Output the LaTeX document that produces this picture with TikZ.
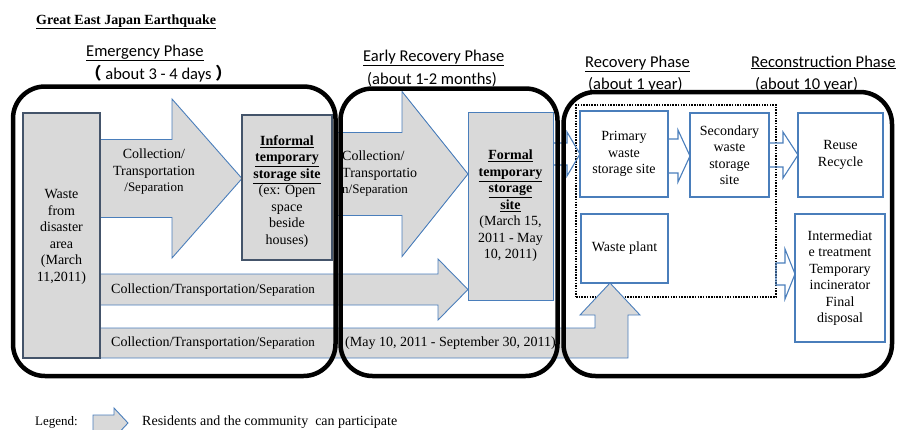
\documentclass[tikz,border=0pt]{standalone}
\usepackage{fontspec}
\setmainfont{Liberation Serif}
\newfontfamily\phasefont{Carlito}
\newfontfamily\cjkfont{Noto Sans CJK JP}
\usetikzlibrary{calc}
\definecolor{bl}{HTML}{4A7EBB}
\definecolor{gfill}{HTML}{D9D9D9}
\definecolor{dkb}{HTML}{44546A}
\newcommand\sepf{\fontsize{13}{16.5}\selectfont}
% block arrow: #1 style, #2 from, #3 to, #4 y centre, #5 shaft half, #6 head half, #7 head length
\newcommand\rarrow[7]{\draw[#1] let \p1=(#2), \p2=(#3) in
  (\x1,#4-#5) -- (\x2-#7pt,#4-#5) -- (\x2-#7pt,#4-#6) -- (\x2,#4) --
  (\x2-#7pt,#4+#6) -- (\x2-#7pt,#4+#5) -- (\x1,#4+#5) -- cycle;}
\pgfdeclarelayer{bg}
\pgfdeclarelayer{fg}
\pgfsetlayers{bg,main,fg}
\begin{document}
\begin{tikzpicture}[x=1pt,y=-1pt,
  boxtext/.style={font=\fontsize{14}{16.5}\selectfont, align=center, inner sep=0pt, outer sep=0pt},
  graybox/.style={boxtext, draw=bl, line width=1pt, fill=gfill},
  darkbox/.style={boxtext, draw=dkb, line width=2.5pt, fill=gfill},
  whitebox/.style={boxtext, draw=bl, line width=1.1pt, fill=white},
  grayarrow/.style={draw=bl, line width=0.9pt, fill=gfill, line join=miter},
  whitearrow/.style={draw=bl, line width=1.1pt, line join=miter},
  phase/.style={font=\phasefont\fontsize{16.5}{19}\selectfont, anchor=base west, inner sep=0pt},
  phasebox/.style={draw=black, line width=4.5pt, rounded corners=32pt},
  dotbox/.style={draw=black, line width=2pt, dash pattern=on 1.5pt off 1.2pt, inner sep=0pt, outer sep=0pt},
  lbl/.style={font=\fontsize{14}{16.5}\selectfont, inner sep=0pt}]
\useasboundingbox (0,0) rectangle (898,429);

% title and phase headings
\node[anchor=base west, inner sep=0pt, font=\bfseries\fontsize{14}{16}\selectfont] (title) at (36,24) {\underline{Great East Japan Earthquake}};
\node[phase] (ph1) at (86,56) {\underline{Emergency Phase}};
\node[phase] (ph1b) at (85,79) {{\cjkfont\bfseries （}\ about 3 - 4 days {\cjkfont\bfseries ）}};
\node[phase] (ph2) at (363,61) {\underline{Early Recovery Phase}};
\node[phase] (ph2b) at (367,84) {(about 1-2 months)};
\node[phase] (ph3) at (585,67) {\underline{Recovery Phase}};
\node[phase] (ph3b) at (588,89) {(about 1 year)};
\node[phase] (ph4) at (751,67) {\underline{Reconstruction Phase}};
\node[phase] (ph4b) at (755,89) {(about 10 year)};

% boxes
\node[darkbox, minimum width=77pt, minimum height=245pt] (waste) at (61.5,235.5) {\rule{0pt}{12pt}Waste\\from\\disaster\\area\\(March\\11,2011)};
\node[darkbox, minimum width=90pt, minimum height=145pt] (informal) at (287,187.5) {\rule{0pt}{17.5pt}\textbf{\underline{Informal}}\\\textbf{\underline{temporary}}\\\textbf{\underline{storage site}}\\(ex: Open\\space\\beside\\houses)};
\node[graybox, minimum width=85pt, minimum height=188pt] (formal) at (510.5,206) {\textbf{\underline{Formal}}\\\textbf{\underline{temporary}}\\\textbf{\underline{storage}}\\\textbf{\underline{site}}\\(March 15,\\2011 - May\\10, 2011)};
\node[whitebox, minimum width=88pt, minimum height=86pt] (primary) at (624,154) {Primary\\waste\\storage site};
\node[whitebox, minimum width=79pt, minimum height=84pt] (secondary) at (729.5,155) {Secondary\\waste\\storage\\site};
\node[whitebox, minimum width=85pt, minimum height=84pt] (reuse) at (840.5,155) {Reuse\\Recycle};
\node[whitebox, minimum width=87pt, minimum height=69pt] (wasteplant) at (624.5,248.5) {Waste plant};
\node[whitebox, minimum width=90pt, minimum height=128pt] (intermed) at (840,278) {Intermediat\\e treatment\\Temporary\\incinerator\\Final\\disposal};

% arrow labels
\node[lbl, align=center] (t1) at (154,172) {Collection/\\Transportation\\{\sepf /Separation}};
\node[lbl, align=left, anchor=west] (t2) at (342,174) {Collection/\\Transportatio\\{\sepf n/Separation}};
\node[lbl, anchor=west] (t3) at (111,290) {Collection/Transportation/{\sepf Separation}};
\node[lbl, anchor=west] (t4) at (111,343) {Collection/Transportation/{\sepf Separation}};
\node[lbl, anchor=west] (t5) at (345,343) {(May 10, 2011 - September 30, 2011)};

% legend
\node[anchor=base west, inner sep=0pt, font=\fontsize{13}{16}\selectfont] (legend) at (35,425) {Legend:};
\node[anchor=base west, inner sep=0pt, font=\fontsize{14}{16}\selectfont] (legtext) at (142,425) {Residents and the community~ can participate};
\coordinate (legA) at (93,423);
\coordinate (legB) at (128,423);
\coordinate (a2start) at (336,174);

\begin{pgfonlayer}{bg}
\node[dotbox, minimum width=200pt, minimum height=192pt] (dotted) at (676,201) {};
\rarrow{grayarrow}{waste.east}{informal.west}{178.5}{39}{79.5}{70}
\rarrow{grayarrow}{a2start}{formal.west}{174}{41.5}{82.5}{66}
\rarrow{grayarrow}{waste.east}{formal.west}{289.5}{15.5}{30.5}{30}
\draw[grayarrow] let \p1=(waste.east), \p2=(wasteplant.south) in
  (\x1,328) -- (595,328) -- (595,315) -- (580,315) -- (\x2-14.5pt,\y2) --
  (640,315) -- (628,315) -- (628,358) -- (\x1,358) -- cycle;
\rarrow{grayarrow}{legA}{legB}{423}{8}{15}{14}
\rarrow{whitearrow}{formal.east}{primary.west}{154}{11}{22}{13}
\rarrow{whitearrow}{primary.east}{secondary.west}{156}{17}{26}{12}
\rarrow{whitearrow}{secondary.east}{reuse.west}{155}{12}{23}{15}
\rarrow{whitearrow}{dotted.east}{intermed.west}{274}{11}{25}{10}
\end{pgfonlayer}

\begin{pgfonlayer}{fg}
\draw[phasebox] (13,86.5) rectangle (335.5,376);
\draw[phasebox] (340.5,88.5) rectangle (557.5,376);
\draw[phasebox] (563.5,92) rectangle (892,376);
\end{pgfonlayer}
\end{tikzpicture}
\end{document}
